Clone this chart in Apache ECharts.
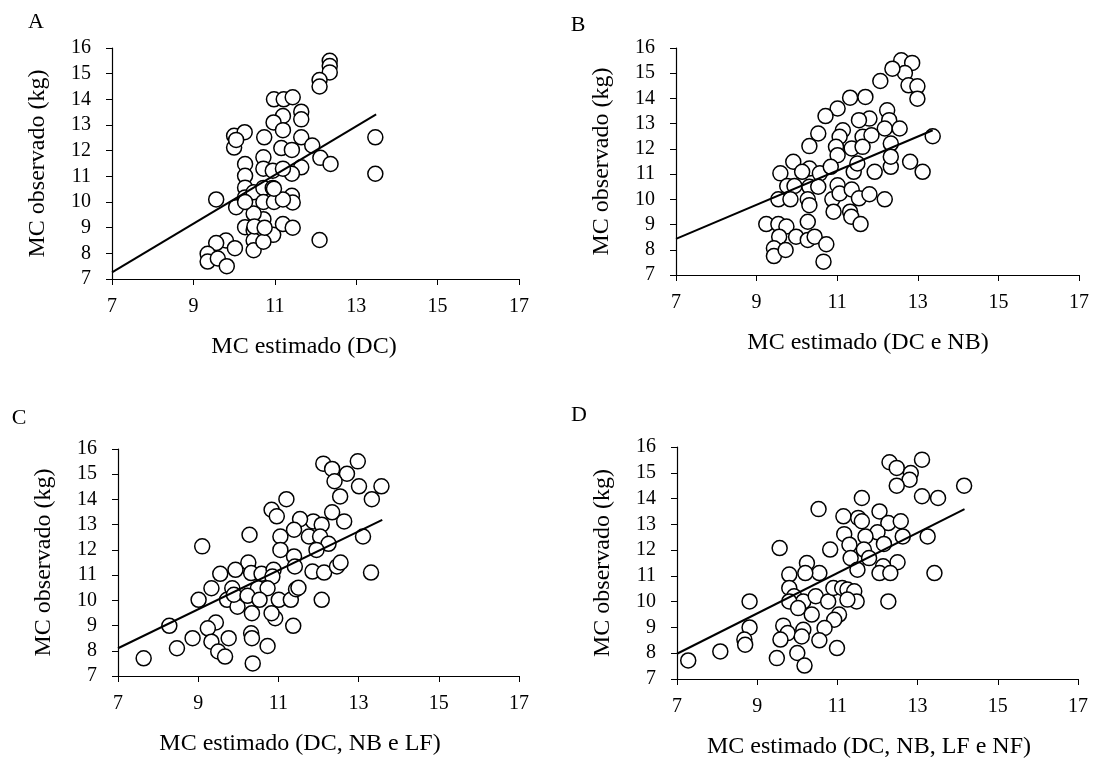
<!DOCTYPE html>
<html><head><meta charset="utf-8">
<script src="https://cdn.jsdelivr.net/npm/echarts@6/dist/echarts.min.js"></script>
<style>html,body{margin:0;padding:0;background:#fff}#c{width:1095px;height:762px}</style>
</head><body><div id="c"></div>
<script>
// ---- data ----
const panelLetters = ['A', 'B', 'C', 'D'];
const xTitles = ['MC estimado (DC)', 'MC estimado (DC e NB)', 'MC estimado (DC, NB e LF)', 'MC estimado (DC, NB, LF e NF)'];
const yTitle = 'MC observado (kg)';
const xTickMin = 7, xTickMax = 17, xTickStep = 2;
const yTickMin = 7, yTickMax = 16, yTickStep = 1;

const xA = [12.35,12.35,12.35,12.1,12.1,10.98,11.22,11.44,11.65,11.65,11.2,10.97,11.2,10.0,10.26,10.0,10.05,10.74,11.65,11.92,11.16,11.42,12.12,12.37,10.27,10.27,10.72,10.72,10.95,11.65,11.42,11.2,9.56,10.05,10.27,10.27,10.48,10.72,10.95,10.72,10.98,11.42,11.44,11.2,10.72,10.48,10.27,10.48,10.72,10.96,11.2,11.44,10.48,10.48,10.72,9.8,10.02,9.56,9.35,9.35,9.6,9.82,12.1,13.47,13.47,10.27,10.5,10.98,10.75];
const yA = [15.5,15.3,15.05,14.75,14.5,14.0,14.0,14.08,13.52,13.22,13.35,13.1,12.8,12.58,12.72,12.12,12.42,12.52,12.52,12.2,12.1,12.03,11.72,11.48,11.48,11.02,11.74,11.3,11.22,11.35,11.1,11.3,10.1,9.8,10.56,10.18,10.38,10.55,10.55,10.0,10.0,10.24,9.98,10.1,9.33,9.55,9.02,8.9,8.88,8.72,9.14,9.0,8.5,8.12,8.45,8.5,8.2,8.4,7.98,7.68,7.8,7.5,8.52,12.52,11.1,10.0,9.05,10.52,9.0];

const xB = [12.59,12.86,12.68,12.37,12.07,12.77,12.99,12.99,11.32,11.7,11.01,10.71,12.24,12.29,11.8,11.54,12.18,12.55,11.14,11.06,11.63,11.85,10.53,10.31,11.36,11.63,12.33,10.97,11.01,9.91,10.31,10.13,10.57,10.84,11.41,11.5,11.93,12.33,12.33,12.81,13.12,13.37,9.59,9.76,9.94,10.31,10.53,9.54,9.84,10.27,10.31,10.88,11.01,11.06,11.36,11.54,11.8,12.18,10.91,11.32,11.35,11.58,9.24,9.54,9.74,10.27,9.56,9.98,10.27,10.44,9.43,9.43,9.72,10.73,10.66];
const yB = [15.51,15.41,15.01,15.18,14.69,14.52,14.48,13.99,14.03,14.06,13.6,13.3,13.53,13.14,13.2,13.14,12.81,12.81,12.74,12.48,12.48,12.54,12.61,12.11,12.02,12.08,12.21,12.08,11.75,11.49,11.22,11.09,11.03,11.29,11.09,11.42,11.09,11.29,11.69,11.49,11.09,12.5,11.03,10.53,10.53,10.5,10.5,10.0,10.0,10.0,9.77,10.0,10.56,10.23,10.39,10.04,10.2,10.0,9.51,9.51,9.31,9.02,9.02,9.02,8.92,9.11,8.52,8.52,8.39,8.52,8.06,7.75,7.99,8.22,7.53];

const xC = [12.12,12.34,12.98,12.71,12.4,13.01,13.57,12.54,13.33,11.2,10.83,10.96,12.34,12.64,11.87,12.08,11.54,11.39,13.11,11.76,12.04,12.25,11.95,11.05,11.05,10.28,9.1,11.39,11.41,11.85,12.14,12.46,12.55,13.31,12.08,10.25,10.32,10.58,9.93,9.55,10.88,10.85,9.33,9.85,10.49,10.73,9.01,9.72,9.98,9.89,10.23,10.53,11.01,11.31,11.44,11.5,10.34,10.92,10.83,11.37,8.28,9.44,9.24,8.86,9.76,9.33,10.32,10.34,10.73,8.47,9.5,9.67,7.64,10.36];
const yC = [15.42,15.21,15.51,15.02,14.72,14.52,14.52,14.12,14.01,14.01,13.59,13.33,13.49,13.13,13.13,13.0,13.22,12.8,12.53,12.53,12.53,12.24,12.0,12.53,12.0,12.6,12.14,11.74,11.34,11.14,11.1,11.34,11.5,11.1,10.02,11.5,11.08,11.05,11.21,11.05,11.21,10.94,10.48,10.48,10.48,10.48,10.02,10.02,9.75,10.22,10.18,10.02,10.02,10.02,10.44,10.5,9.49,9.29,9.49,8.99,8.99,9.12,8.89,8.5,8.5,8.36,8.69,8.5,8.19,8.1,7.97,7.77,7.7,7.5];

const xD = [12.3,12.48,13.11,12.83,12.8,12.48,14.16,13.11,13.51,11.61,10.53,12.05,11.15,11.52,11.61,12.27,12.58,12.0,11.17,11.7,12.63,13.25,11.3,12.16,10.82,11.66,9.56,11.33,11.79,12.5,12.14,11.5,12.05,12.32,13.42,10.24,10.55,9.8,10.2,12.27,9.8,9.92,10.15,9.8,10.02,10.46,10.77,10.9,11.12,11.25,11.42,11.48,11.25,11.04,10.36,10.92,8.81,8.81,9.65,9.76,10.15,10.11,10.68,8.68,8.7,9.58,10.55,8.08,7.28,9.49,10.0,10.18,10.99];
const yD = [15.41,15.19,15.51,14.99,14.73,14.5,14.5,14.09,14.02,14.02,13.59,13.5,13.31,13.25,13.12,13.05,13.12,12.69,12.62,12.53,12.53,12.53,12.21,12.24,12.02,12.02,12.08,11.69,11.69,11.53,11.37,11.24,11.11,11.11,11.11,11.5,11.11,11.05,11.11,10.01,10.53,10.21,10.01,10.01,9.75,10.21,10.01,10.53,10.53,10.47,10.4,10.01,10.08,9.5,9.5,9.3,10.01,9.0,9.07,8.78,8.91,8.65,8.98,8.53,8.33,8.53,8.5,8.07,7.72,7.81,8.01,7.52,8.2];

// trend lines (start / end values)
const trendAx = [7, 13.49], trendAy = [7.26, 13.41];
const trendBx = [7, 13.37], trendBy = [8.43, 12.74];
const trendCx = [7, 13.59], trendCy = [8.1, 13.19];
const trendDx = [7, 14.17], trendDy = [7.98, 13.59];

// ---- layout / style ----
const FONT = 'Liberation Serif, Times New Roman, serif';
const grids = [
  {left: 112, top: 48, width: 407, height: 231},
  {left: 676, top: 48, width: 403, height: 227},
  {left: 118, top: 449, width: 401, height: 227},
  {left: 677, top: 447, width: 401, height: 232}
];
const xTitleShift = [23, 19, 37, 17];
const letterPos = [[36, 22], [578, 25], [19, 418], [579, 415]];

const pts = (xs, ys) => xs.map((x, i) => [x, ys[i]]);
const series = [], xAxes = [], yAxes = [];
const scat = [pts(xA, yA), pts(xB, yB), pts(xC, yC), pts(xD, yD)];
const trends = [pts(trendAx, trendAy), pts(trendBx, trendBy), pts(trendCx, trendCy), pts(trendDx, trendDy)];

grids.forEach((g, i) => {
  xAxes.push({
    gridIndex: i, type: 'value', min: xTickMin, max: xTickMax, interval: xTickStep,
    axisLine: {show: true, onZero: false, lineStyle: {color: '#000', width: 1.2}},
    axisTick: {show: true, inside: false, length: 6, lineStyle: {color: '#000', width: 1}},
    axisLabel: {show: true, color: '#000', fontFamily: FONT, fontSize: 20, margin: 18, showMinLabel: true, showMaxLabel: true},
    splitLine: {show: false},
    name: xTitles[i], nameLocation: 'middle', nameGap: 56,
    nameTextStyle: {color: '#000', fontFamily: FONT, fontSize: 24, padding: [0, xTitleShift[i], 0, 0]}
  });
  yAxes.push({
    gridIndex: i, type: 'value', min: yTickMin, max: yTickMax, interval: yTickStep,
    axisLine: {show: true, onZero: false, lineStyle: {color: '#000', width: 1.2}},
    axisTick: {show: true, inside: false, length: 6, lineStyle: {color: '#000', width: 1}},
    axisLabel: {show: true, color: '#000', fontFamily: FONT, fontSize: 20, margin: 21, showMinLabel: true, showMaxLabel: true},
    splitLine: {show: false},
    name: yTitle, nameLocation: 'middle', nameGap: 62,
    nameTextStyle: {color: '#000', fontFamily: FONT, fontSize: 24}
  });
  series.push({
    type: 'scatter', xAxisIndex: i, yAxisIndex: i, data: scat[i],
    symbol: 'circle', symbolSize: 15, z: 2, silent: true,
    itemStyle: {color: '#fff', borderColor: '#000', borderWidth: 1.5, opacity: 1}
  });
  series.push({
    type: 'line', xAxisIndex: i, yAxisIndex: i, data: trends[i],
    showSymbol: false, symbol: 'none', z: 3, silent: true,
    lineStyle: {color: '#000', width: 2}
  });
});

const chart = echarts.init(document.getElementById('c'), null, {renderer: 'canvas'});
chart.setOption({
  animation: false,
  backgroundColor: '#fff',
  grid: grids.map(g => Object.assign({containLabel: false, outerBoundsMode: 'none'}, g)),
  xAxis: xAxes,
  yAxis: yAxes,
  series: series,
  graphic: panelLetters.map((t, i) => ({
    type: 'text', x: letterPos[i][0], y: letterPos[i][1],
    style: {text: t, fill: '#000', font: '22px ' + FONT, textAlign: 'center', textVerticalAlign: 'middle'}
  }))
});
</script></body></html>
